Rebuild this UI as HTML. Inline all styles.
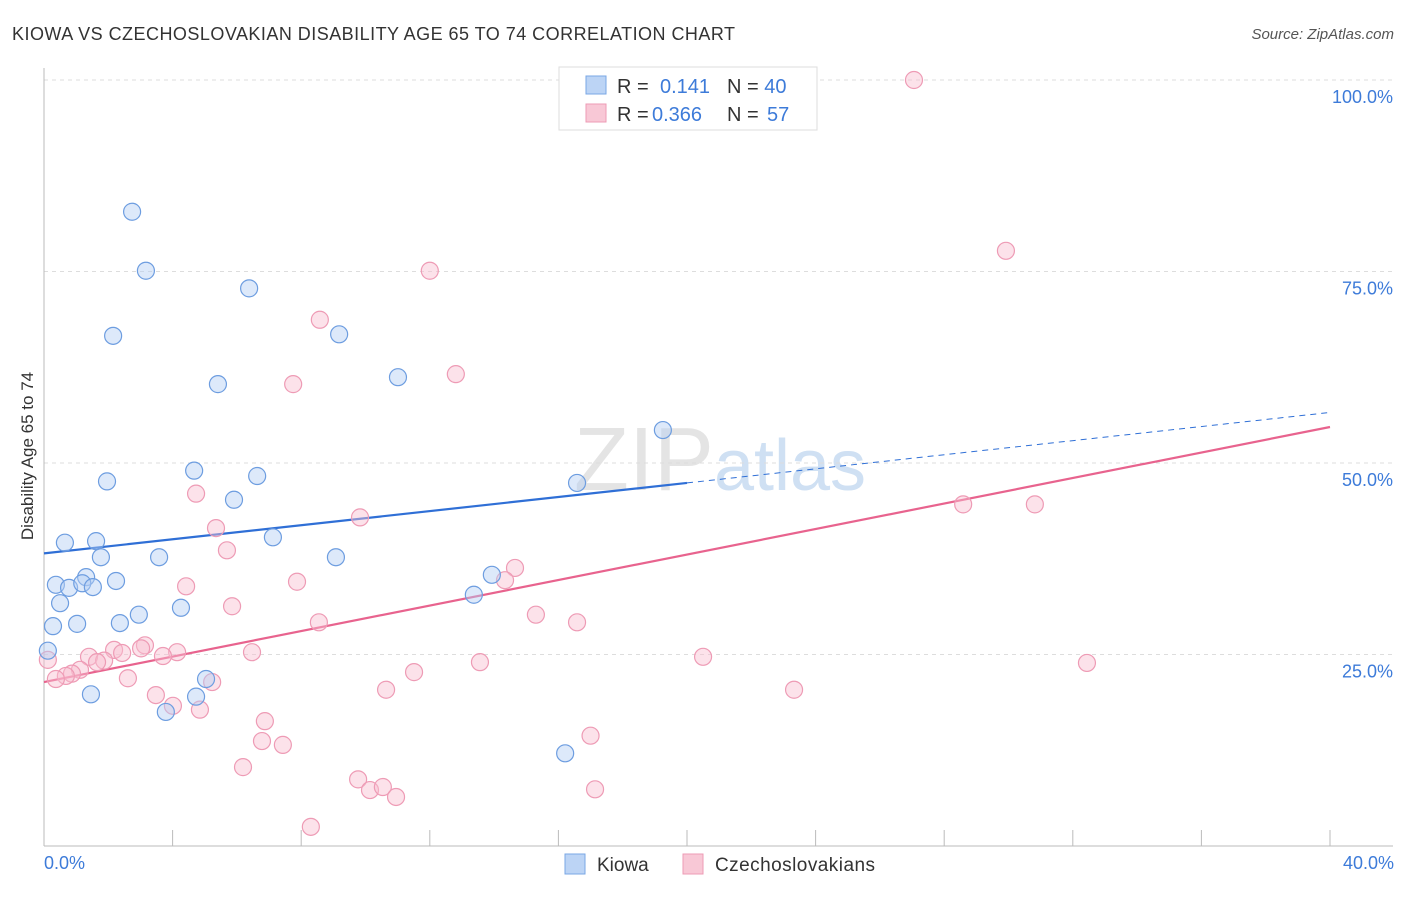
<!DOCTYPE html>
<html><head><meta charset="utf-8"><style>
body{margin:0;background:#fff;font-family:"Liberation Sans",sans-serif;}
svg text{font-family:"Liberation Sans",sans-serif;}
</style></head><body>
<svg id="chart" width="1406" height="892">
<text x="12" y="40" font-size="18" fill="#333" textLength="723">KIOWA VS CZECHOSLOVAKIAN DISABILITY AGE 65 TO 74 CORRELATION CHART</text>
<text x="1394" y="39" font-size="15" fill="#555" text-anchor="end" font-style="italic">Source: ZipAtlas.com</text>
<text x="720" y="490" font-size="90" fill="#e4e4e4" text-anchor="middle" font-family="Liberation Serif">ZIP<tspan fill="#cfe0f3" font-family="Liberation Sans" font-size="72">atlas</tspan></text>
<g id="grid"></g><g id="axes"></g><g id="lines"></g><g id="pts"></g>
<text transform="translate(33,456) rotate(-90)" font-size="17" fill="#333" text-anchor="middle">Disability Age 65 to 74</text>
<text x="44" y="869" font-size="18" fill="#3d7bd9">0.0%</text>
<text x="1394" y="869" font-size="18" fill="#3d7bd9" text-anchor="end">40.0%</text>
<g>
<rect x="559" y="67" width="258" height="63" fill="#fff" stroke="#ddd"/>
<rect x="586" y="76" width="20" height="18" fill="#bcd4f5" stroke="#7aa7e5"/>
<rect x="586" y="104" width="20" height="18" fill="#f8c8d6" stroke="#ee9bb5"/>
<text x="617" y="93" font-size="20" fill="#333">R = <tspan fill="#3d7bd9" x="660">0.141</tspan><tspan x="727">N = </tspan><tspan fill="#3d7bd9">40</tspan></text>
<text x="617" y="121" font-size="20" fill="#333">R = <tspan fill="#3d7bd9" x="652">0.366</tspan><tspan x="727">N = </tspan><tspan fill="#3d7bd9" x="767">57</tspan></text>
</g>
<g>
<rect x="565" y="854" width="20" height="20" fill="#bcd4f5" stroke="#7aa7e5"/>
<text x="597" y="871" font-size="19" fill="#333">Kiowa</text>
<rect x="683" y="854" width="20" height="20" fill="#f8c8d6" stroke="#ee9bb5"/>
<text x="715" y="871" font-size="19" fill="#333" textLength="160">Czechoslovakians</text>
</g>
</svg>
<script>
const yTicks=[25,50,75,100];
const yTickLabels=["25.0%","50.0%","75.0%","100.0%"];
const xTicks=[0,4,8,12,16,20,24,28,32,36,40];
const kiowaX=[2.74,3.17,6.38,2.15,9.18,5.41,11.01,19.25,1.96,4.67,6.63,5.91,16.58,0.65,1.62,1.77,3.58,7.12,9.08,0.37,0.78,1.31,1.19,1.52,2.24,0.5,2.95,4.26,13.93,13.37,0.28,1.03,2.36,0.12,5.04,1.46,4.73,3.79,16.21];
const kiowaY=[82.8,75.1,72.8,66.6,66.8,60.3,61.2,54.3,47.6,49.0,48.3,45.2,47.4,39.6,39.8,37.7,37.7,40.3,37.7,34.1,33.7,35.1,34.3,33.8,34.6,31.7,30.2,31.1,35.4,32.8,28.7,29.0,29.1,25.5,21.8,19.8,19.5,17.5,12.1];
const czX=[27.06,29.92,12.0,8.58,7.75,12.81,4.73,28.59,30.82,9.83,5.35,5.69,14.65,14.34,4.42,7.87,5.85,15.3,16.58,8.55,3.14,3.02,4.14,6.47,3.7,2.18,2.43,1.4,1.87,1.65,20.5,13.56,32.44,11.51,1.12,0.87,0.68,0.37,2.61,5.23,0.12,3.48,10.64,23.33,4.01,4.85,6.87,6.78,7.43,17.0,6.19,9.77,10.14,10.54,10.95,17.14,8.3];
const czY=[100,77.7,75.1,68.7,60.3,61.6,46.0,44.6,44.6,42.9,41.5,38.6,36.3,34.7,33.9,34.5,31.3,30.2,29.2,29.2,26.2,25.8,25.3,25.3,24.8,25.6,25.2,24.7,24.2,24.0,24.7,24.0,23.9,22.7,23.0,22.5,22.2,21.8,21.9,21.4,24.3,19.7,20.4,20.4,18.3,17.8,16.3,13.7,13.2,14.4,10.3,8.7,7.3,7.7,6.4,7.4,2.5];
const kiowaTrend=[38.2,56.6];
const czTrend=[21.4,54.7];
const NS="http://www.w3.org/2000/svg";
const sx=v=>44+v/40*1286, sy=v=>846-v*7.66;
function mk(t,a,p){const e=document.createElementNS(NS,t);for(const k in a)e.setAttribute(k,a[k]);document.getElementById(p).appendChild(e);return e;}
yTicks.forEach((t,i)=>{
 const g=mk('line',{x1:44,x2:1393,y1:sy(t),y2:sy(t),stroke:'#ddd','stroke-dasharray':'4,4'},'grid');
 
 
 const l=mk('text',{x:1393,y:sy(t)+23,'font-size':18,fill:'#3d7bd9','text-anchor':'end'},'grid');
 l.textContent=yTickLabels[i];
 
 
});
const ax=mk('line',{x1:44,x2:1393,y1:846,y2:846,stroke:'#bbb'},'axes');


const ay=mk('line',{x1:44,x2:44,y1:68,y2:846,stroke:'#bbb'},'axes');


xTicks.forEach(t=>{const e=mk('line',{x1:sx(t),x2:sx(t),y1:830,y2:846,stroke:'#bbb'},'axes');
 
 });
function pts(X,Y,fill,stroke,name){X.forEach((x,i)=>{const c=mk('circle',{cx:sx(x),cy:sy(Y[i]),r:8.5,fill:fill,stroke:stroke,'stroke-width':1.2},'pts');
 
 });}
pts(czX,czY,'rgba(248,190,208,0.45)','#ee9bb5','czech-point');
pts(kiowaX,kiowaY,'rgba(180,206,244,0.45)','#6d9de0','kiowa-point');
const b1=mk('line',{x1:sx(0),y1:sy(kiowaTrend[0]),x2:sx(20),y2:sy(kiowaTrend[0]+(kiowaTrend[1]-kiowaTrend[0])/2),stroke:'#2f6fd6','stroke-width':2.2},'lines');


const b2=mk('line',{x1:sx(20),y1:sy(kiowaTrend[0]+(kiowaTrend[1]-kiowaTrend[0])/2),x2:sx(40),y2:sy(kiowaTrend[1]),stroke:'#2f6fd6','stroke-width':1,'stroke-dasharray':'6,5'},'lines');


const p1=mk('line',{x1:sx(0),y1:sy(czTrend[0]),x2:sx(40),y2:sy(czTrend[1]),stroke:'#e8638e','stroke-width':2.2},'lines');


</script>
</body></html>
